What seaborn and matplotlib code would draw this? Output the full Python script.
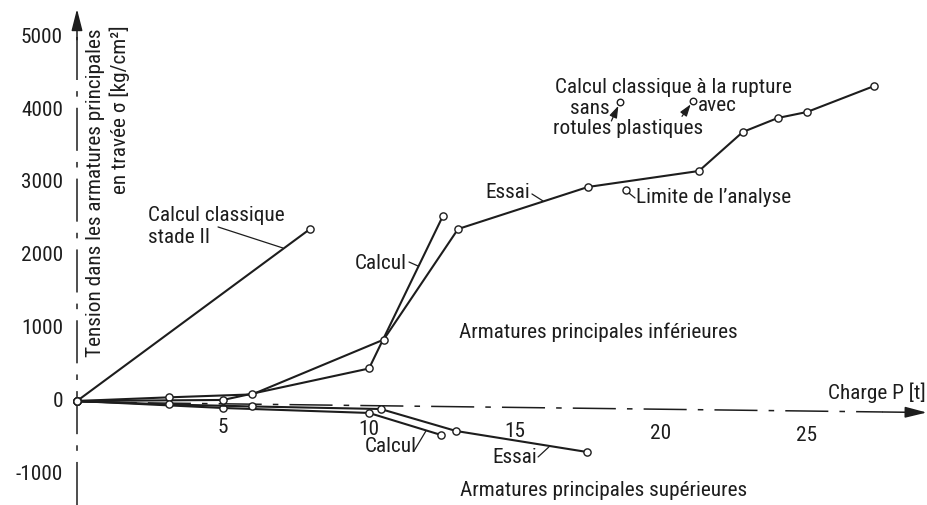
import matplotlib
matplotlib.use("Agg")
import matplotlib.pyplot as plt
from matplotlib import font_manager as fm
import seaborn as sns

# ---------------------------------------------------------------------------
# Data: load P [t] against steel stress sigma [kg/cm2]
# ---------------------------------------------------------------------------
load_stade2 = [0.0, 7.98]
stress_stade2 = [0, 2356]

load_inf_calcul = [0.0, 5.0, 10.0, 12.53]
stress_inf_calcul = [0, 14, 445, 2534]

load_inf_essai = [0.0, 3.15, 6.0, 10.5, 13.05, 17.5, 21.3, 22.8, 24.0, 25.0, 27.3]
stress_inf_essai = [0, 50, 90, 840, 2356, 2932, 3151, 3685, 3877, 3959, 4315]

load_sup_calcul = [0.0, 5.0, 10.0, 12.47]
stress_sup_calcul = [0, -96, -164, -466]

load_sup_essai = [0.0, 3.15, 6.0, 10.4, 12.98, 17.47]
stress_sup_essai = [0, -48, -75, -110, -411, -699]

# classical ultimate-load results (without / with plastic hinges)
load_rupture = [18.6, 21.1]
stress_rupture = [4096, 4110]

# limit of the analysis
load_limite = [18.8]
stress_limite = [2890]

x_ticks = [5, 10, 15, 20, 25]
y_ticks = [5000, 4000, 3000, 2000, 1000, 0, -1000]
y_tick_labels = ["5000", "4000", "3000", "2000", "1000", "0", "-1000"]

# ---------------------------------------------------------------------------
# Style
# ---------------------------------------------------------------------------
sns.set_theme(style="white")
available = {f.name for f in fm.fontManager.ttflist}
family = "DejaVu Sans"
for cand in ["Roboto Condensed", "Open Sans Condensed", "Liberation Sans Narrow",
             "DejaVu Sans Condensed"]:
    if cand in available:
        family = cand
        break
stretch = "normal"
if family == "DejaVu Sans" and any(
        f.name == "DejaVu Sans" and f.stretch in ("condensed", 75, "semi-condensed")
        for f in fm.fontManager.ttflist):
    stretch = "condensed"
plt.rcParams["font.family"] = [family, "DejaVu Sans"]
plt.rcParams["font.stretch"] = stretch

INK = "#1d1d1d"
LW = 1.5

fig = plt.figure(figsize=(9.28, 5.06), dpi=100)
ax = fig.add_axes([0, 0, 1, 1])
ax.set_xlim(-2.637, 29.144)
ax.set_ylim(-1425, 5507)
ax.axis("off")

# ---------------------------------------------------------------------------
# Axes drawn as dash-dot construction lines with arrow heads
# ---------------------------------------------------------------------------
AXLW = 1.1
dashdot = (0, (31 / AXLW, 8 / AXLW, 4 / AXLW, 8 / AXLW))


def axis_y(p):
    # the load axis runs very slightly downwards to the right
    return -14 - 4.95 * p


ax.plot([0, 0], [-1425, 5000], color=INK, lw=AXLW, linestyle=dashdot, zorder=1)
ax.annotate("", xy=(0, 5370), xytext=(0, 4950),
            arrowprops=dict(arrowstyle="-|>,head_length=1.1,head_width=0.28",
                            color=INK, lw=AXLW, shrinkA=0, shrinkB=0,
                            mutation_scale=12))
ax.plot([0, 27.6], [axis_y(0), axis_y(27.6)], color=INK, lw=AXLW,
        linestyle=dashdot, zorder=1)
ax.annotate("", xy=(29.1, axis_y(29.1)), xytext=(27.6, axis_y(27.6)),
            arrowprops=dict(arrowstyle="-|>,head_length=1.1,head_width=0.28",
                            color=INK, lw=AXLW, shrinkA=0, shrinkB=0,
                            mutation_scale=12))

# ---------------------------------------------------------------------------
# Curves
# ---------------------------------------------------------------------------
marker_kw = dict(marker="o", markersize=5.2, markerfacecolor="white",
                 markeredgecolor=INK, markeredgewidth=1.0)
for xs, ys in [(load_stade2, stress_stade2),
               (load_inf_calcul, stress_inf_calcul),
               (load_inf_essai, stress_inf_essai),
               (load_sup_calcul, stress_sup_calcul),
               (load_sup_essai, stress_sup_essai)]:
    sns.lineplot(x=xs, y=ys, ax=ax, sort=False, estimator=None, color=INK,
                 lw=LW, zorder=3, **marker_kw)

sns.scatterplot(x=load_rupture, y=stress_rupture, ax=ax, s=22, color="white",
                edgecolor=INK, linewidth=1.0, zorder=4)
sns.scatterplot(x=load_limite, y=stress_limite, ax=ax, s=26, color="white",
                edgecolor=INK, linewidth=1.0, zorder=4)

# ---------------------------------------------------------------------------
# Lettering
# ---------------------------------------------------------------------------
FS = 12
texts = []


def label(x, y, s, **kw):
    kw.setdefault("va", "center")
    kw.setdefault("ha", "left")
    t = ax.text(x, y, s, fontsize=FS, color=INK, **kw)
    texts.append(t)
    return t


def leader(x0, y0, x1, y1):
    ax.plot([x0, x1], [y0, y1], color=INK, lw=0.9, zorder=2)


for v, s in zip(y_ticks, y_tick_labels):
    label(-0.48, v, s, ha="right")
for p in x_ticks:
    label(p, axis_y(p) - 315, str(p), ha="center")

label(0.62, 5123, "Tension dans les armatures principales", rotation=90,
      ha="center", va="top")
label(1.47, 5164, "en travée σ [kg/cm²]", rotation=90, ha="center", va="top")

label(2.43, 2548, "Calcul classique")
label(2.43, 2247, "stade II")
leader(4.83, 2384, 7.05, 2096)

label(11.30, 1904, "Calcul", ha="right")
leader(11.37, 1904, 11.68, 1849)

label(15.51, 2863, "Essai", ha="right")
leader(15.58, 2836, 15.96, 2740)

label(16.37, 4315, "Calcul classique à la rupture")
label(18.25, 4027, "sans", ha="right")
label(21.27, 4068, "avec")
label(16.30, 3753, "rotules plastiques")
arrow_kw = dict(arrowstyle="-|>,head_length=0.9,head_width=0.3", color=INK,
                lw=0.9, shrinkA=0, shrinkB=3, mutation_scale=8)
ax.annotate("", xy=(load_rupture[0], stress_rupture[0]), xytext=(18.30, 3836),
            arrowprops=arrow_kw)
ax.annotate("", xy=(load_rupture[1], stress_rupture[1]), xytext=(20.72, 3900),
            arrowprops=arrow_kw)

label(19.14, 2808, "Limite de l’analyse")
leader(18.9, 2849, 19.11, 2781)

ref = label(13.08, 959, "Armatures principales inférieures")

label(29.08, 123, "Charge P [t]", ha="right")

label(9.86, -616, "Calcul")
leader(11.54, -685, 11.95, -411)
label(14.21, -767, "Essai")
leader(15.79, -767, 16.16, -630)

label(13.12, -1219, "Armatures principales supérieures")

# scale the lettering so the main caption spans its intended width
fig.canvas.draw()
width = ref.get_window_extent(fig.canvas.get_renderer()).width
k = 279.0 / width
for t in texts:
    t.set_fontsize(t.get_fontsize() * k)

fig.savefig("out.png", dpi=100, facecolor="white")
